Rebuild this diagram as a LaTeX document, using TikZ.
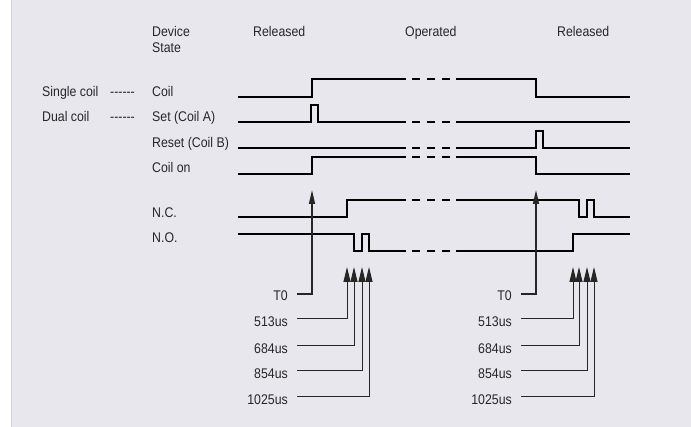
\documentclass[tikz,border=0pt]{standalone}
\usepackage{fontspec}
\setmainfont{Liberation Sans}[FakeStretch=0.88]
\usetikzlibrary{arrows.meta}
\definecolor{bg}{HTML}{E9E7EE}
\definecolor{edge}{HTML}{D6D4DB}
\definecolor{ink}{HTML}{262626}
\begin{document}
\begin{tikzpicture}[x=1pt,y=-1pt,
  txt/.style={font=\fontsize{14pt}{16pt}\selectfont, text=ink, inner sep=0pt},
  lbl/.style={txt, anchor=base west},
  tlbl/.style={txt, anchor=base east},
  wave/.style={line width=1.7pt, black, line join=miter},
  brk/.style={line width=1.7pt, black, dash pattern=on 8pt off 7pt},
  leader/.style={line width=1pt, ink, -{Triangle[length=15pt,width=7pt]}},
  t0arrow/.style={line width=1.4pt, ink, -{Triangle[length=14pt,width=6pt]}}]
\useasboundingbox (0,0) rectangle (691,427);
\fill[white] (0,0) rectangle (691,427);
\fill[bg] (11,0) rectangle (691,427);
\draw[edge, line width=0.8pt] (11,0) -- (11,427);

% header texts
\node[lbl] (dev) at (152,37) {Device};
\node[lbl] (st) at (152,53) {State};
\node[lbl] (rel1) at (253,37) {Released};
\node[lbl] (op) at (405,37) {Operated};
\node[lbl] (rel2) at (557,37) {Released};

% row labels
\node[lbl] (sc) at (42,97) {Single coil};
\node[lbl] (scd) at (110,97) {-{}-{}-{}-{}-{}-};
\node[lbl] (coil) at (152,97) {Coil};
\node[lbl] (dc) at (42,122) {Dual coil};
\node[lbl] (dcd) at (110,122) {-{}-{}-{}-{}-{}-};
\node[lbl] (set) at (152,122) {Set (Coil A)};
\node[lbl] (reset) at (152,148) {Reset (Coil B)};
\node[lbl] (con) at (152,173) {Coil on};
\node[lbl] (nc) at (152,218) {N.C.};
\node[lbl] (no) at (152,243) {N.O.};

% waveforms
% Coil
\draw[wave] (238,97) -| (312,79) -- (406,79);
\draw[brk] (412,79) -- (450,79);
\draw[wave] (456,79) -| (536,97) -- (630,97);
% Set
\draw[wave] (238,122) -- (311,122) -- (311,105) -- (318,105) -- (318,122) -- (406,122);
\draw[brk] (412,122) -- (450,122);
\draw[wave] (456,122) -- (630,122);
% Reset
\draw[wave] (238,148) -- (406,148);
\draw[brk] (412,148) -- (450,148);
\draw[wave] (456,148) -- (536,148) -- (536,131) -- (543,131) -- (543,148) -- (630,148);
% Coil on
\draw[wave] (238,174) -| (312,157) -- (406,157);
\draw[brk] (412,157) -- (450,157);
\draw[wave] (456,157) -| (536,174) -- (630,174);
% N.C.
\draw[wave] (238,217) -| (347,200) -- (406,200);
\draw[brk] (412,200) -- (450,200);
\draw[wave] (456,200) -- (579,200) -- (579,217) -- (587,217) -- (587,200) -- (594,200) -- (594,217) -- (630,217);
% N.O.
\draw[wave] (238,234) -- (354,234) -- (354,251) -- (362,251) -- (362,234) -- (369,234) -- (369,251) -- (406,251);
\draw[brk] (412,251) -- (450,251);
\draw[wave] (456,251) -| (573,234) -- (630,234);

% time labels, left
\node[tlbl] (t0L) at (288,301) {T0};
\node[tlbl] (a1L) at (288,327) {513us};
\node[tlbl] (a2L) at (288,354) {684us};
\node[tlbl] (a3L) at (288,379) {854us};
\node[tlbl] (a4L) at (288,405) {1025us};
\coordinate (s0L) at (297,294);
\coordinate (s1L) at (297,319);
\coordinate (s2L) at (297,346);
\coordinate (s3L) at (297,371);
\coordinate (s4L) at (297,397);
\coordinate (e0L) at (312,190);
\coordinate (e1L) at (347,267);
\coordinate (e2L) at (354,267);
\coordinate (e3L) at (362,267);
\coordinate (e4L) at (369,267);
\draw[t0arrow] (s0L) -| (e0L);
\draw[leader] (s1L) -| (e1L);
\draw[leader] (s2L) -| (e2L);
\draw[leader] (s3L) -| (e3L);
\draw[leader] (s4L) -| (e4L);

% time labels, right
\node[tlbl] (t0R) at (512,301) {T0};
\node[tlbl] (a1R) at (512,327) {513us};
\node[tlbl] (a2R) at (512,354) {684us};
\node[tlbl] (a3R) at (512,379) {854us};
\node[tlbl] (a4R) at (512,405) {1025us};
\coordinate (s0R) at (521,294);
\coordinate (s1R) at (521,319);
\coordinate (s2R) at (521,346);
\coordinate (s3R) at (521,371);
\coordinate (s4R) at (521,397);
\coordinate (e0R) at (536,190);
\coordinate (e1R) at (573,267);
\coordinate (e2R) at (579,267);
\coordinate (e3R) at (587,267);
\coordinate (e4R) at (594,267);
\draw[t0arrow] (s0R) -| (e0R);
\draw[leader] (s1R) -| (e1R);
\draw[leader] (s2R) -| (e2R);
\draw[leader] (s3R) -| (e3R);
\draw[leader] (s4R) -| (e4R);
\end{tikzpicture}
\end{document}
